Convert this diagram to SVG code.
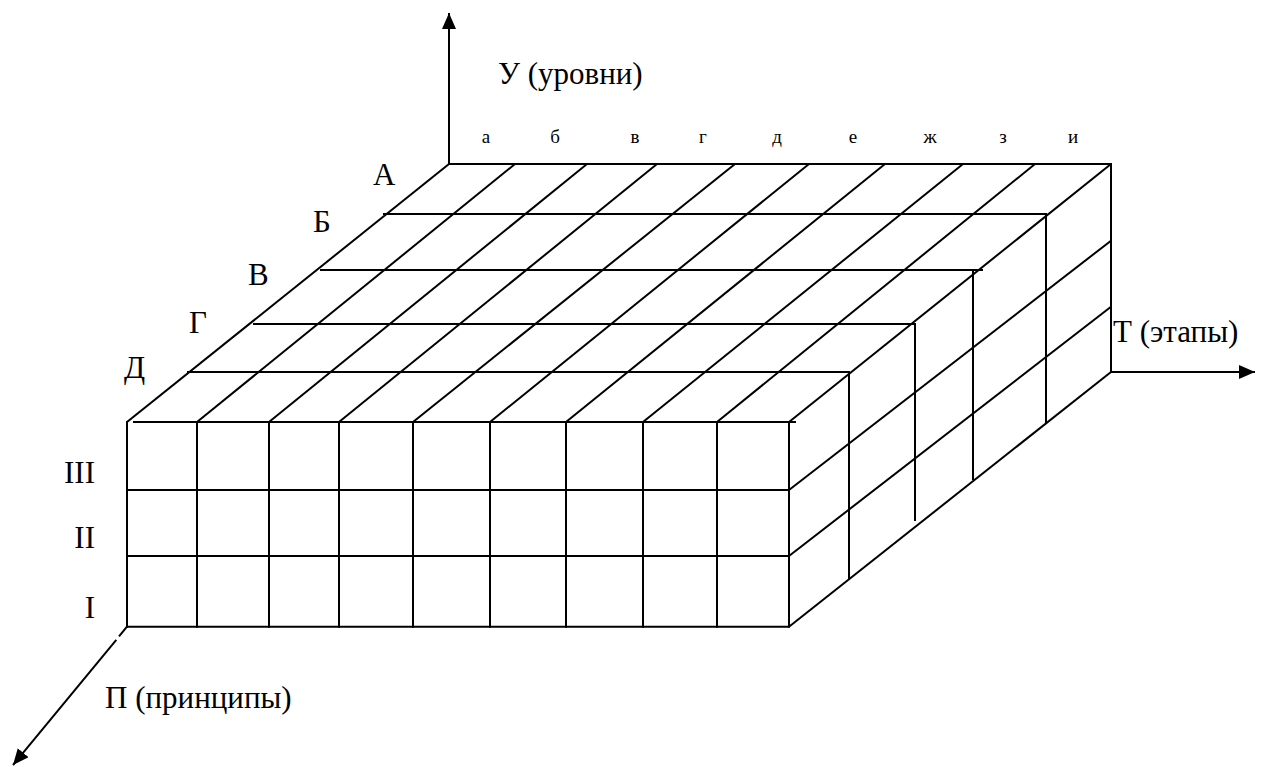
<svg xmlns="http://www.w3.org/2000/svg" width="1266" height="767" viewBox="0 0 1266 767">
<style>
  .ln { stroke: #000; stroke-width: 2; fill: none; stroke-linecap: butt; }
  .big { font-family: "Liberation Serif", "Times New Roman", serif; font-size: 31px; fill: #000; }
  .sm { font-family: "Liberation Serif", "Times New Roman", serif; font-size: 19px; fill: #000; text-anchor: middle; }
</style>
<defs>
  <marker id="arr" markerUnits="userSpaceOnUse" markerWidth="18" markerHeight="16" refX="16" refY="7" orient="auto">
    <path d="M0,0 L16,7 L0,14 Z" fill="#000"/>
  </marker>
</defs>
<rect width="1266" height="767" fill="#fff"/>

<g id="axes">
  <line class="ln" x1="449" y1="164" x2="449" y2="13" marker-end="url(#arr)"/>
  <line class="ln" x1="1111" y1="372" x2="1255" y2="372" marker-end="url(#arr)"/>
  <line class="ln" x1="127" y1="626.7" x2="119" y2="636.4"/>
  <line class="ln" x1="116.3" y1="639.8" x2="13" y2="765" marker-end="url(#arr)"/>
</g>

<g id="box">
  <!-- front face -->
  <line class="ln" x1="133" y1="422" x2="796" y2="422"/>
  <line class="ln" x1="127" y1="490" x2="789" y2="490"/>
  <line class="ln" x1="127" y1="556" x2="789" y2="556"/>
  <line class="ln" x1="127" y1="626.7" x2="789" y2="626.7"/>
  <line class="ln" x1="127" y1="421" x2="127" y2="627.7"/>
  <line class="ln" x1="197" y1="421" x2="197" y2="627.7"/>
  <line class="ln" x1="269" y1="421" x2="269" y2="627.7"/>
  <line class="ln" x1="339" y1="421" x2="339" y2="627.7"/>
  <line class="ln" x1="413" y1="421" x2="413" y2="627.7"/>
  <line class="ln" x1="490" y1="421" x2="490" y2="627.7"/>
  <line class="ln" x1="566" y1="421" x2="566" y2="627.7"/>
  <line class="ln" x1="643" y1="421" x2="643" y2="627.7"/>
  <line class="ln" x1="717" y1="421" x2="717" y2="627.7"/>
  <line class="ln" x1="789" y1="421" x2="789" y2="627.7"/>

  <!-- top face depth diagonals -->
  <line class="ln" x1="127" y1="422" x2="449" y2="164"/>
  <line class="ln" x1="197" y1="422" x2="515" y2="164"/>
  <line class="ln" x1="269" y1="422" x2="587" y2="164"/>
  <line class="ln" x1="339" y1="422" x2="657" y2="164"/>
  <line class="ln" x1="413" y1="422" x2="735" y2="164"/>
  <line class="ln" x1="490" y1="422" x2="809" y2="164"/>
  <line class="ln" x1="566" y1="422" x2="885" y2="164"/>
  <line class="ln" x1="643" y1="422" x2="963" y2="164"/>
  <line class="ln" x1="717" y1="422" x2="1035" y2="164"/>
  <line class="ln" x1="789" y1="422" x2="1111" y2="164"/>

  <!-- top face rows -->
  <line class="ln" x1="449" y1="164" x2="1112" y2="164"/>
  <line class="ln" x1="383" y1="214" x2="1047" y2="214"/>
  <line class="ln" x1="320" y1="270" x2="983" y2="270"/>
  <line class="ln" x1="253" y1="324" x2="916" y2="324"/>
  <line class="ln" x1="187" y1="372" x2="850" y2="372"/>

  <!-- right face -->
  <line class="ln" x1="1111" y1="163" x2="1111" y2="373"/>
  <line class="ln" x1="789" y1="490" x2="1111" y2="240.7"/>
  <line class="ln" x1="789" y1="556" x2="1111" y2="306.7"/>
  <line class="ln" x1="789" y1="626.7" x2="1111" y2="372"/>
  <line class="ln" x1="1046" y1="214" x2="1046" y2="423.5"/>
  <line class="ln" x1="973" y1="270" x2="973" y2="480"/>
  <line class="ln" x1="915" y1="324" x2="915" y2="521"/>
  <line class="ln" x1="849" y1="372" x2="849" y2="579.5"/>
</g>

<g id="labels">
  <text class="big" x="498" y="84">У (уровни)</text>
  <text class="big" x="1113" y="342">Т (этапы)</text>
  <text class="big" x="105" y="708">П (принципы)</text>

  <text class="big" x="373" y="185">А</text>
  <text class="big" x="313" y="232">Б</text>
  <text class="big" x="248" y="285">В</text>
  <text class="big" x="189" y="333">Г</text>
  <text class="big" x="124" y="378">Д</text>

  <text class="big" x="95" y="483" text-anchor="end">III</text>
  <text class="big" x="95" y="548" text-anchor="end">II</text>
  <text class="big" x="95" y="618" text-anchor="end">I</text>

  <text class="sm" x="486" y="143">а</text>
  <text class="sm" x="555" y="143">б</text>
  <text class="sm" x="635" y="143">в</text>
  <text class="sm" x="703" y="143">г</text>
  <text class="sm" x="777" y="143">д</text>
  <text class="sm" x="853" y="143">е</text>
  <text class="sm" x="930" y="143">ж</text>
  <text class="sm" x="1003" y="143">з</text>
  <text class="sm" x="1073" y="143">и</text>
</g>
</svg>
